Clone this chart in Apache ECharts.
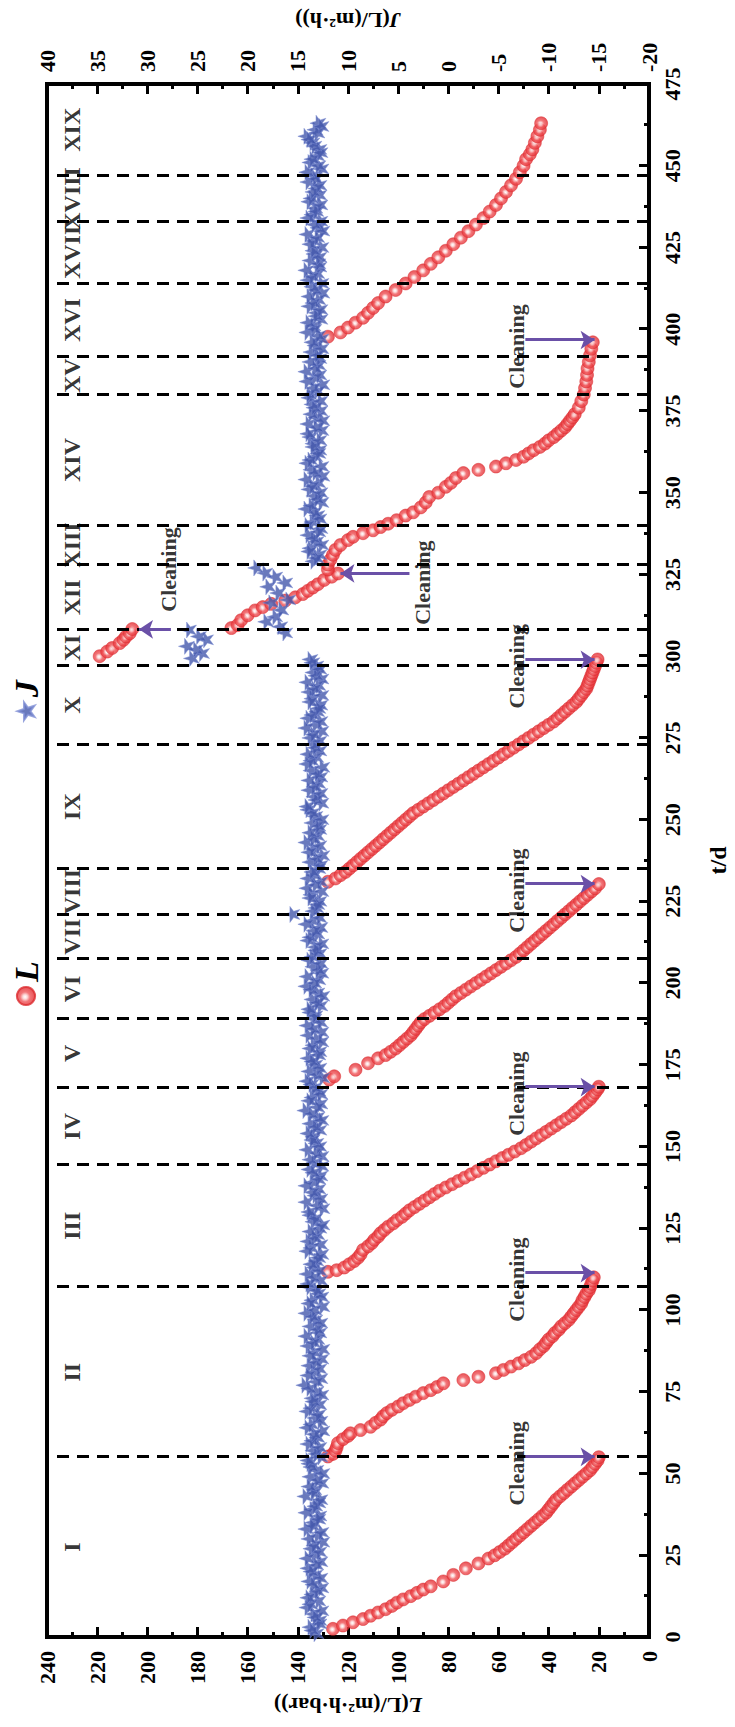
<!DOCTYPE html>
<html><head><meta charset="utf-8">
<script src="https://cdn.jsdelivr.net/npm/echarts@6/dist/echarts.min.js"></script>
<style>
html,body{margin:0;padding:0;background:#fff;overflow:hidden;width:735px;height:1727px;}
#chart{position:absolute;left:0;top:0;width:1727px;height:735px;transform-origin:0 0;transform:rotate(-90deg) translate(-1727px,0);}
</style></head>
<body><div id="chart"></div>
<script>
// ---- data (t in days, L in L/(m2·h·bar), J in L/(m2·h)) ----
const stageBounds = [55,107,144.5,168,189,207.5,221,235,273,297,308,328,340,380,391.5,414,433,447];
const stageNames = ['I','II','III','IV','V','VI','VII','VIII','IX','X','XI','XII','XIII','XIV','XV','XVI','XVII','XVIII','XIX'];
const stageMid = [27.5,81,125.8,156.2,178.5,198.2,214.2,228,254,285,302.5,318,334,360,385.8,402.8,423.5,440,461];
const cleanLowT = [55.1,111.3,168.2,230.3,298.9,396.7];

const L_c1 = [[2.5,126],[3.5,122],[4.5,118],[5.5,114],[6.5,111],[7.5,108],[8.5,105],[9.5,102.5],[10.5,100.5],[11.5,98],[12.5,95],[13.5,92.5],[14.5,90],[15.5,87],[17,82],[19,78],[21,73],[22.5,68],[24,64],[25,61.5],[26,59.5],[27,57.5],[28,56],[29,54.5],[30,53],[31,51.5],[32,50],[33,48.5],[34,47],[35,45.5],[36,44],[37,42.5],[38,41],[39,40],[40,39],[41,38],[42,37],[43,35.5],[44,34],[45,32.5],[46,31],[47,29.5],[48,28],[49,26.5],[50,25],[51,23.5],[52,22.5],[53,21.5],[54,20.5],[55,20]];
const L_c2 = [[55.2,128],[56,126],[57,125],[58,124.5],[59.3,124],[60.5,122],[61.5,120],[62.3,119],[63.3,115],[64.3,111],[65.5,109],[66.5,107],[67.5,106],[68.5,104.5],[69.5,102.5],[70.5,100],[71.5,98],[72.5,95.5],[73.5,93],[74.6,90],[75.5,87],[76.5,84.5],[77.6,82],[78.6,74],[79.6,68],[80.7,61],[81.7,58],[82.7,55],[83.7,52],[84.7,49.5],[85.7,47],[86.8,45],[88,43.5],[89,42],[90,41],[91,40],[92,38.5],[93,37.5],[94,36],[95,35],[96,33.5],[97,32],[98,31],[99,30],[100,29],[101,28],[102,27],[103,26.5],[104,25.7],[105,25],[106,24],[107,23.5],[108,23],[109,22.5],[110,22]];
const L_c3 = [[111.7,128],[112.2,124.5],[113,121.5],[114,119.5],[115,117.5],[116,116],[117,115],[118.4,114],[119.5,112],[120.5,110.5],[121.5,109.5],[122.5,108],[123.5,107],[124.5,105.5],[125.5,104],[126.5,102],[127.5,100.5],[128.5,98.5],[129.5,97],[130.5,95.5],[131.5,93.5],[132.5,91.5],[133.5,89.5],[134.5,87.5],[135.5,85.5],[136.5,83.5],[137.5,81],[138.5,78.5],[139.5,76],[140.5,73.5],[141.5,71],[142.5,68.5],[143.5,66],[144.5,63.5],[145.5,61],[146.5,58.5],[147.5,56],[148.5,53.5],[149.5,51],[150.5,49],[151.5,47],[152.5,45],[153.5,43],[154.5,41],[155.5,39],[156.5,37],[157.5,35],[158.5,33],[159.5,31],[160.5,29.5],[161.5,28],[162.5,26.5],[163.5,25],[164.5,23.5],[165.5,22.5],[166.5,21.5],[167.5,20.5],[168.3,20]];
const L_c4 = [[170.5,127.5],[171.5,125.5],[173.5,117],[175.5,112],[177,108],[178,105],[179,103],[180,101],[181,99.5],[182,98],[183,96.5],[184,95],[185,94],[186,93],[187,92],[188,91],[189,89.5],[190,87.5],[191,85.5],[192,83.5],[193,81.5],[194,80],[195,78.5],[196,77],[197,75],[198,73],[199,71],[200,69],[201,67],[202,65],[203,63],[204,61],[205,59],[206,57],[207,55],[208,53],[209,51.5],[210,50],[211,48.5],[212,47],[213,45.5],[214,44],[215,42.5],[216,41],[217,39.5],[218,38],[219,36.5],[220,35],[221,33.5],[222,32],[223,30.5],[224,29],[225,27.5],[226,26],[227,24.5],[228,23],[229,21.5],[230.3,20]];
const L_c5 = [[231,128],[232,125],[233,123],[234,121],[235,119.5],[236,118],[237,116.5],[238,115],[239,113.5],[240,112],[241,110.5],[242,109],[243,107.5],[244,106],[245,104.5],[246,103],[247,101.5],[248,100],[249,98.5],[250,97],[251,95.5],[252,94],[253,92],[254,90],[255,88],[256,86],[257,84],[258,82],[259,80],[260,78],[261,76],[262,74],[263,72],[264,70],[265,68],[266,66],[267,64],[268,62],[269,60],[270,58],[271,56],[272,54],[273,52],[274,50],[275,48],[276,46],[277,44],[278,42],[279,40],[280,38],[281,36.5],[282,35],[283,33.5],[284,32],[285,30.5],[286,29],[287,28],[288,27],[289,26],[290,25],[291,24.5],[292,24],[293,23.5],[294,23],[295,22.5],[296,22],[297,21.5],[298,21],[299,20.5]];
const L_c6 = [[300,219],[301.4,216],[302.5,214],[304,211],[305,209.5],[306,208.5],[307,207],[308.3,206]];
const L_c7 = [[308.6,166.5],[309.5,164],[311,162.6],[312.5,160],[314,157],[315,154],[316,150.6],[317,145],[318,141],[319,138],[320,136],[321,134],[322,132],[323.3,129.5],[324.3,126.5],[325.3,124]];
const L_c8 = [[326.5,128],[328,128],[329.5,127],[331,126],[332.5,125],[334,123],[335.5,120],[336.5,118],[337.6,114],[338.5,110],[339.5,107],[340.5,104],[341.6,100.6],[343,97],[344,94],[345.5,91],[347,89],[348.7,87.6],[350,84],[351.8,81],[353,79],[354.5,77],[356,74],[357,68],[358,61],[359,57],[360,53],[361,50],[362,48],[363,46],[364,43.5],[365,41.5],[366,40],[367,38],[368,36.5],[369,35],[370,33.5],[371,32.5],[372,31.5],[373,30.5],[374,29.6],[376,28],[378,27],[380,26],[382,25.5],[384,25],[386,24.7],[388,24.5],[390,24],[392,23.5],[394,23],[396,22.4]];
const L_c9 = [[397.7,128],[399,123],[400.5,120],[402,117],[403.5,114],[405,112],[406.5,110],[408,108],[410,105],[412,101],[414,97],[416,93.5],[418,90],[420,87],[422,84],[424,81],[426,78],[428,75],[430,72],[432,69],[434,66],[436,63.5],[438,61],[440,59],[442,57],[444,55],[446,53],[448,51.5],[450,50],[452,49],[453.5,47.5],[455,46.5],[457,45.5],[459,44.5],[461,43.5],[463,43]];

const J_s1 = [[1,13.2],[3,13.8],[5,12.9],[7,13.5],[9,14.1],[11,13.0],[13,13.6],[15,12.7],[17,13.9],[19,13.3],
[21,14.0],[23,12.8],[25,13.4],[27,13.7],[29,12.6],[31,13.1],[33,14.2],[35,13.5],[37,12.9],[39,13.6],
[41,13.0],[43,14.3],[45,13.4],[47,12.7],[49,13.8],[51,13.2],[53,13.9],[55,12.8],[57,13.5],[59,14.0],
[61,13.1],[63,12.6],[65,13.7],[67,13.3],[69,14.1],[71,12.9],[73,13.6],[75,13.2],[77,14.4],[79,12.8],
[81,13.5],[83,13.9],[85,12.7],[87,13.4],[89,14.0],[91,13.1],[93,12.9],[95,13.8],[97,13.3],[99,14.2],
[101,12.6],[103,13.6],[105,13.0],[107,13.9],[109,12.8],[111,14.1],[113,13.4],[115,13.2],[117,12.7],[119,13.7],
[121,14.0],[123,13.1],[125,12.9],[127,13.5],[129,13.8],[131,12.6],[133,14.2],[135,13.3],[137,13.0],[139,13.6],
[141,12.8],[143,13.9],[145,13.4],[147,12.7],[149,14.1],[151,13.2],[153,13.5],[155,12.9],[157,13.8],[159,13.1],
[161,14.3],[163,12.8],[165,13.6],[167,13.0],[169,13.7],[171,12.6],[173,13.9],[175,13.3],[177,14.0],[179,12.9],
[181,13.5],[183,13.2],[185,12.7],[187,14.1],[189,13.4],[191,13.8],[193,12.8],[195,13.6],[197,13.1],[199,14.2],
[201,13.0],[203,12.7],[205,13.5],[207,13.9],[209,12.9],[211,13.3],[213,14.0],[215,13.1],[217,12.8],[219,13.6],
[221,15.6],[223,13.2],[225,12.9],[227,13.7],[229,14.1],[231,12.8],[233,13.4],[235,13.0],[237,13.8],[239,12.6],
[241,13.5],[243,14.2],[245,13.1],[247,12.9],[249,13.6],[251,13.3],[253,14.0],[255,12.7],[257,13.4],[259,13.9],
[261,13.0],[263,12.8],[265,13.7],[267,14.1],[269,13.2],[271,12.9],[273,13.5],[275,13.8],[277,12.7],[279,13.3],
[281,14.0],[283,13.1],[285,12.8],[287,13.6],[289,13.9],[291,13.0],[293,12.7],[295,13.5],[297,13.2],[299,13.8]];
const J_e1 = [[2,13.6],[4,12.9],[6,13.3],[8,12.7],[10,13.8],[12,14.0],[14,13.1],[16,13.5],[18,12.8],[20,13.7],
[22,13.2],[24,14.1],[26,12.9],[28,13.4],[30,13.9],[32,12.7],[34,13.6],[36,13.0],[38,14.2],[40,13.3],
[42,12.8],[44,13.5],[46,13.9],[48,13.1],[50,12.6],[52,13.7],[54,14.0],[56,13.2],[58,12.9],[60,13.6],
[62,13.4],[64,14.1],[66,12.8],[68,13.0],[70,13.7],[72,13.5],[74,12.7],[76,13.9],[78,13.2],[80,14.0],
[82,12.9],[84,13.3],[86,13.8],[88,12.6],[90,13.5],[92,14.2],[94,13.1],[96,12.8],[98,13.6],[100,13.4],
[102,13.9],[104,12.7],[106,13.2],[108,14.0],[110,13.5],[112,12.9],[114,13.7],[116,13.0],[118,14.1],[120,12.8],
[122,13.4],[124,13.8],[126,12.6],[128,13.3],[130,13.9],[132,13.1],[134,12.8],[136,13.6],[138,14.2],[140,13.0],
[142,13.5],[144,12.7],[146,13.8],[148,13.2],[150,12.9],[152,13.6],[154,14.0],[156,13.3],[158,12.7],[160,13.7],
[162,13.1],[164,13.9],[166,12.8],[168,13.4],[170,14.1],[172,13.2],[174,12.9],[176,13.6],[178,13.0],[180,13.8],
[182,12.7],[184,14.0],[186,13.5],[188,12.8],[190,13.3],[192,13.9],[194,13.1],[196,12.6],[198,13.7],[200,13.4],
[202,14.1],[204,13.0],[206,12.8],[208,13.6],[210,13.2],[212,12.7],[214,13.8],[216,13.4],[218,14.2],[220,12.9],
[222,13.5],[224,13.1],[226,13.8],[228,12.7],[230,13.3],[232,14.0],[234,13.6],[236,12.8],[238,13.2],[240,13.9],
[242,12.9],[244,13.5],[246,13.8],[248,13.0],[250,12.7],[252,13.6],[254,14.1],[256,13.2],[258,12.8],[260,13.4],
[262,13.9],[264,13.1],[266,12.6],[268,13.7],[270,14.0],[272,13.3],[274,12.9],[276,13.5],[278,14.2],[280,12.8],
[282,13.6],[284,13.0],[286,13.8],[288,12.7],[290,13.4],[292,14.1],[294,13.2],[296,12.9],[298,13.6]];
const J_s2 = [[299.3,25.6],[300.8,24.6],[302,25.2],[303,26.1],[305,24.2],[306,24.9],[308,25.9]];
const J_s3 = [[307.1,16.3],[309,16.8],[310.5,18.2],[312,17.3],[314.1,16.7],[316.3,17.7],[317.2,16.0],[319.3,17.0],[321.2,18.0],[322.4,16.3],[324.2,17.3],[325.4,18.3],[327,19.2]];
const J_s4 = [[329,13.5],[331,12.9],[333,13.8],[335,13.2],[337,14.0],[339,12.8],[341,13.6],[343,13.1],[345,14.2],[347,12.7],
[349,13.4],[351,13.9],[353,13.0],[355,12.6],[357,13.7],[359,14.1],[361,13.3],[363,12.9],[365,13.5],[367,13.8],
[369,12.7],[371,14.0],[373,13.2],[375,12.8],[377,13.6],[379,13.9],[381,13.1],[383,12.6],[385,13.4],[387,14.2],
[389,13.0],[391,12.9],[393,13.7],[395,13.3],[397,12.7],[399,14.1],[401,13.5],[403,12.8],[405,13.2],[407,13.9],
[409,13.0],[411,12.6],[413,13.6],[415,14.0],[417,13.1],[419,12.9],[421,13.8],[423,13.4],[425,12.7],[427,13.5],
[429,14.1],[431,13.0],[433,12.8],[435,13.6],[437,13.3],[439,13.9],[441,12.9],[443,13.2],[445,14.0],[447,13.5],
[449,12.7],[451,13.8],[453,13.1],[455,12.9],[457,13.6],[459,14.2],[461,13.3],[463,13.0]];
const J_e4 = [[330,13.2],[332,13.9],[334,12.7],[336,13.5],[338,13.0],[340,14.1],[342,12.9],[344,13.4],[346,13.7],[348,13.1],
[350,12.8],[352,13.6],[354,14.2],[356,13.3],[358,12.7],[360,13.8],[362,13.0],[364,13.5],[366,12.9],[368,14.0],
[370,13.2],[372,12.6],[374,13.7],[376,13.4],[378,12.8],[380,13.9],[382,13.5],[384,14.1],[386,12.9],[388,13.3],
[390,13.8],[392,13.1],[394,12.7],[396,13.6],[398,13.0],[400,13.4],[402,14.0],[404,13.2],[406,12.8],[408,13.5],
[410,13.9],[412,13.3],[414,12.7],[416,13.6],[418,14.2],[420,13.0],[422,12.9],[424,13.5],[426,13.8],[428,13.1],
[430,12.6],[432,13.4],[434,14.0],[436,13.2],[438,12.8],[440,13.7],[442,13.5],[444,12.9],[446,13.3],[448,14.1],
[450,13.0],[452,13.6],[454,12.8],[456,13.4],[458,13.9],[460,13.1],[462,12.7]];

// ---- chart ----
const FONT = 'Liberation Serif';
const starPath = 'path://M50,0 L61.8,35.4 L99,35.4 L69,57.3 L80.3,92.7 L50,70.8 L19.7,92.7 L31,57.3 L1,35.4 L38.2,35.4 Z';
const L_all = [].concat(L_c1,L_c2,L_c3,L_c4,L_c5,L_c6,L_c7,L_c8,L_c9);
const J_all = [].concat(J_s1,J_e1,J_s2,J_s3,J_s4,J_e4);
const redBall = new echarts.graphic.RadialGradient(0.45,0.45,0.55,[
  {offset:0,color:'#ffffff'},{offset:0.22,color:'#fbd0d0'},{offset:0.5,color:'#f05458'},{offset:1,color:'#e0282d'}]);

const arrowLines = cleanLowT.map(t => [{coord:[t,49.3]},{coord:[t,21.7]}]);
arrowLines.push([{coord:[308.2,190.6]},{coord:[308.2,203.3]}]);
arrowLines.push([{coord:[325.3,95.5]},{coord:[325.3,123]}]);

const textItems = [];
stageNames.forEach((n,i)=>textItems.push({name:n,value:[stageMid[i],230],label:{fontSize:24}}));
cleanLowT.forEach(t=>textItems.push({name:'Cleaning',value:[t-2,52.7]}));
textItems.push({name:'Cleaning',value:[326.5,191.5]});
textItems.push({name:'Cleaning',value:[322.5,90.4]});

const axisCommon = {
  axisLine:{show:true,onZero:false,lineStyle:{color:'#000',width:4}},
  axisTick:{show:true,inside:true,length:10,lineStyle:{color:'#000',width:3}},
  minorTick:{show:true,splitNumber:2,length:5,lineStyle:{color:'#000',width:3}},
  splitLine:{show:false},
  axisLabel:{color:'#000',fontFamily:FONT,fontWeight:'bold',fontSize:22},
  nameTextStyle:{color:'#000',fontFamily:FONT,fontWeight:'bold',fontSize:22,
    rich:{i:{fontStyle:'italic',fontWeight:'bold',fontFamily:FONT,fontSize:22,color:'#000'}}}
};

const chart = echarts.init(document.getElementById('chart'), null, {renderer:'svg', width:1727, height:735});
chart.setOption({
  animation:false,
  backgroundColor:'#fff',
  grid:{left:90,right:84,top:47,bottom:80,show:true,borderColor:'#000',borderWidth:4,backgroundColor:'transparent'},
  legend:{data:[{name:'L',icon:'circle'},{name:'J',icon:starPath}],left:716,top:4,itemWidth:18,itemHeight:18,itemGap:240,
    textStyle:{fontFamily:FONT,fontStyle:'italic',fontWeight:'bold',fontSize:34,color:'#000'}},
  xAxis:Object.assign({},axisCommon,{type:'value',min:0,max:475,interval:25,position:'bottom',
    name:'t/d',nameLocation:'middle',nameGap:57,
    axisLabel:Object.assign({},axisCommon.axisLabel,{margin:12}),
    nameTextStyle:{color:'#000',fontFamily:FONT,fontWeight:'bold',fontSize:24}}),
  yAxis:[
    Object.assign({},axisCommon,{type:'value',min:0,max:240,interval:20,position:'left',
      name:'{i|L}(L/(m²·h·bar))',nameLocation:'middle',nameGap:56,
      axisLabel:Object.assign({},axisCommon.axisLabel,{margin:14})}),
    Object.assign({},axisCommon,{type:'value',min:-20,max:40,interval:5,position:'right',
      name:'{i|J}(L/(m²·h))',nameLocation:'middle',nameGap:44,
      axisLabel:Object.assign({},axisCommon.axisLabel,{margin:12})})
  ],
  series:[
    {name:'L',type:'scatter',xAxisIndex:0,yAxisIndex:0,symbol:'circle',symbolSize:13,
     itemStyle:{color:redBall,borderColor:'#dc2a2e',borderWidth:0.6},
     data:L_all, z:2,
     markLine:{silent:true,symbol:['none','arrow'],symbolSize:14,label:{show:false},
       lineStyle:{color:'#6a50a7',width:3,type:'solid'},data:arrowLines,z:6}},
    {name:'J',type:'scatter',xAxisIndex:0,yAxisIndex:1,symbol:starPath,symbolSize:16,
     itemStyle:{color:'#4357ab',borderColor:'#7f8fd4',borderWidth:0.6},
     data:J_all, z:3,
     markLine:{silent:true,symbol:'none',label:{show:false},
       lineStyle:{color:'#000',type:[12,8],width:3},data:stageBounds.map(v=>({xAxis:v})),z:5}},
    {name:'text',type:'scatter',xAxisIndex:0,yAxisIndex:0,symbolSize:0.1,silent:true,
     itemStyle:{color:'rgba(0,0,0,0)'},z:7,
     label:{show:true,position:'inside',formatter:'{b}',color:'#000',fontFamily:FONT,fontWeight:'bold',fontSize:22},
     data:textItems}
  ]
});
</script>
</body></html>
